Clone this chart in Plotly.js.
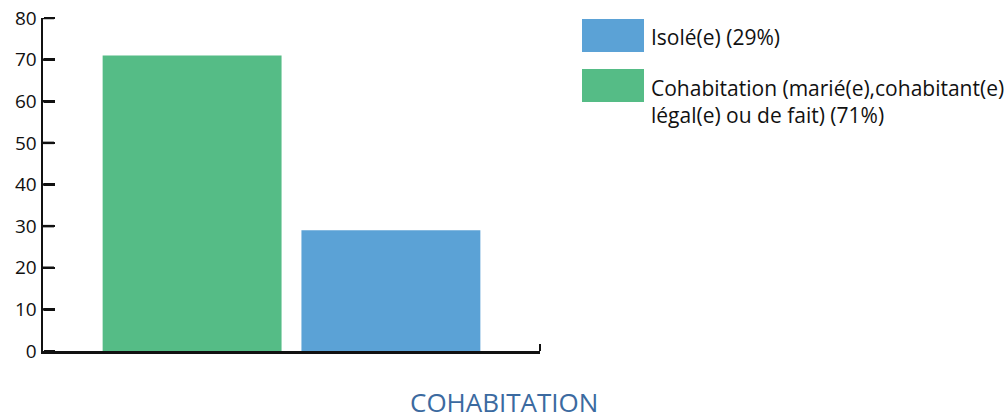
<!DOCTYPE html>
<html><head><meta charset="utf-8">
<script src="https://cdn.plot.ly/plotly-3.0.1.min.js"></script>
<style>body{margin:0;background:#fff}#chart{width:1008px;height:419px}</style>
</head><body><div id="chart"></div>
<script>
// Data
const categories = ['Cohabitation', 'Isolé(e)'];
const values = [71, 29];
const colors = ['#55BC86', '#5BA2D6'];
const legendLabels = ['Isolé(e) (29%)', 'Cohabitation (marié(e),cohabitant(e)<br>légal(e) ou de fait) (71%)'];
const legendColors = ['#5BA2D6', '#55BC86'];
const yTicks = [0, 10, 20, 30, 40, 50, 60, 70, 80];
const axisTitle = 'COHABITATION';

const FONT = 'Open Sans, Noto Sans, sans-serif';
const INK = '#111';
const PLOT_W = 1008 - 43 - 468;

const traces = categories.map((c, i) => ({
  type: 'bar', x: [c], y: [values[i]], width: 0.9,
  marker: {color: colors[i], line: {width: 0}}, name: c, showlegend: false, hoverinfo: 'skip'
}));
// invisible helper so the tick-only axis y2 is drawn
traces.push({type: 'scatter', x: [categories[0]], y: [yTicks[0]], yaxis: 'y2', mode: 'markers',
  marker: {opacity: 0}, showlegend: false, hoverinfo: 'skip'});

const shapes = [];
const annotations = [];

// y-axis tick marks pointing into the plot (backup), placed through the y scale
yTicks.filter(v => v > 0).forEach(v => {
  shapes.push({type: 'line', xref: 'paper', yref: 'y',
    x0: 0, x1: 11 / PLOT_W, y0: v, y1: v, line: {color: INK, width: 2.5}, layer: 'above'});
});
// small upward tick closing the x axis on the right
shapes.push({type: 'line', xref: 'paper', yref: 'y', ysizemode: 'pixel', yanchor: 0,
  x0: 1, x1: 1, y0: 0, y1: 7, line: {color: INK, width: 2}, layer: 'above'});

// custom legend with large swatches
const textCenters = [37, 101];
legendLabels.forEach((t, i) => {
  const top = 19 + i * 50;
  shapes.push({type: 'rect', xref: 'paper', yref: 'paper',
    x0: (582 - 43) / PLOT_W, x1: (644 - 43) / PLOT_W,
    y0: 1 - (top + 33 - 18) / 333, y1: 1 - (top - 18) / 333,
    fillcolor: legendColors[i], line: {width: 0}});
  annotations.push({xref: 'paper', yref: 'paper', x: (649 - 43) / PLOT_W,
    y: 1 - (textCenters[i] - 18) / 333,
    xanchor: 'left', yanchor: 'middle', align: 'left', showarrow: false,
    text: t, font: {family: FONT, size: 21, color: INK}});
});
annotations.push({xref: 'paper', yref: 'paper', x: (504 - 43) / PLOT_W, y: 1 - (402 - 18) / 333,
  xanchor: 'center', yanchor: 'middle', showarrow: false, text: axisTitle,
  font: {family: FONT, size: 26, color: '#3B6AA0'}});

const layout = {
  width: 1008, height: 419,
  margin: {l: 43, r: 468, t: 18, b: 68},
  paper_bgcolor: '#fff', plot_bgcolor: '#fff',
  barmode: 'overlay', showlegend: false,
  font: {family: FONT, color: INK},
  xaxis: {type: 'category', categoryorder: 'array', categoryarray: categories,
    range: [-0.75, 1.75], showgrid: false, zeroline: false,
    showline: true, linecolor: INK, linewidth: 2.5,
    showticklabels: false, ticks: '', fixedrange: true},
  yaxis: {range: [0, 80], tickmode: 'array', tickvals: yTicks,
    showgrid: false, zeroline: false, showline: true, linecolor: INK, linewidth: 2.5,
    ticks: '', tickfont: {family: FONT, size: 19, color: INK}},
  yaxis2: {overlaying: 'y', side: 'right', anchor: 'free', position: 0,
    range: [0, 80], tickmode: 'array', tickvals: yTicks,
    showgrid: false, zeroline: false, showline: false, showticklabels: false,
    ticks: 'outside', ticklen: 11, tickwidth: 2.5, tickcolor: INK},
  shapes: shapes, annotations: annotations
};

Plotly.newPlot('chart', traces, layout, {displayModeBar: false, staticPlot: true});
</script></body></html>
